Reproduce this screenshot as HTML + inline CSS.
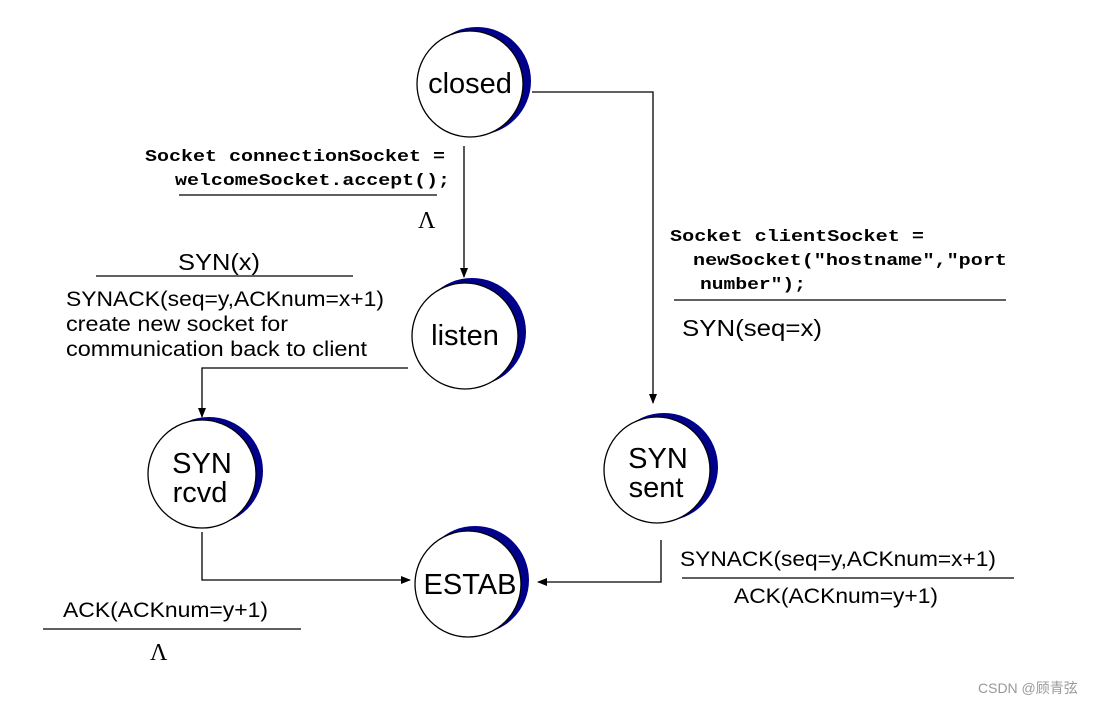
<!DOCTYPE html>
<html><head><meta charset="utf-8"><style>
html,body{margin:0;padding:0;background:#fff;}
svg{display:block}
.s{font-family:"Liberation Sans",sans-serif;fill:#000}
.m{font-family:"Liberation Mono",monospace;font-weight:bold;fill:#000}
</style></head><body>
<svg width="1093" height="705" viewBox="0 0 1093 705" xmlns="http://www.w3.org/2000/svg">
<defs>
<marker id="a" markerWidth="10" markerHeight="10" refX="9" refY="5" orient="auto" markerUnits="userSpaceOnUse">
<path d="M0,1 L10,5 L0,9 z" fill="#000"/></marker>
</defs>
<rect width="1093" height="705" fill="#fff"/>
<g>
<circle cx="477" cy="81" r="54" fill="#00008b"/>
<circle cx="470" cy="84" r="53" fill="#fff" stroke="#000" stroke-width="1.3"/>
<circle cx="472" cy="332" r="54" fill="#00008b"/>
<circle cx="465" cy="336" r="53" fill="#fff" stroke="#000" stroke-width="1.3"/>
<circle cx="209" cy="471" r="54" fill="#00008b"/>
<circle cx="202" cy="474" r="54" fill="#fff" stroke="#000" stroke-width="1.3"/>
<circle cx="664" cy="467" r="54" fill="#00008b"/>
<circle cx="657" cy="470" r="53" fill="#fff" stroke="#000" stroke-width="1.3"/>
<circle cx="475" cy="580" r="54" fill="#00008b"/>
<circle cx="468" cy="584" r="53" fill="#fff" stroke="#000" stroke-width="1.3"/>
</g>
<text class="s" x="470" y="93" font-size="29" text-anchor="middle">closed</text>
<text class="s" x="465" y="345" font-size="29" text-anchor="middle">listen</text>
<text class="s" x="202" y="473" font-size="29" text-anchor="middle">SYN</text>
<text class="s" x="200" y="502" font-size="29" text-anchor="middle">rcvd</text>
<text class="s" x="658" y="468" font-size="29" text-anchor="middle">SYN</text>
<text class="s" x="656" y="497" font-size="29" text-anchor="middle">sent</text>
<text class="s" x="470" y="594" font-size="29" text-anchor="middle">ESTAB</text>
<g fill="none" stroke="#000" stroke-width="1.3">
<polyline points="532,92 653,92 653,403" marker-end="url(#a)"/>
<line x1="464" y1="146" x2="464" y2="277" marker-end="url(#a)"/>
<polyline points="408,368 202,368 202,417" marker-end="url(#a)"/>
<polyline points="202,532 202,580 410,580" marker-end="url(#a)"/>
<polyline points="661,540 661,582 538,582" marker-end="url(#a)"/>
<line x1="179" y1="195" x2="437" y2="195"/>
<line x1="96" y1="276" x2="353" y2="276"/>
<line x1="674" y1="300" x2="1006" y2="300"/>
<line x1="682" y1="578" x2="1014" y2="578"/>
<line x1="43" y1="629" x2="301" y2="629"/>
</g>
<text class="m" x="145" y="161" font-size="17" textLength="300" lengthAdjust="spacingAndGlyphs">Socket connectionSocket =</text>
<text class="m" x="175" y="185" font-size="17" textLength="275" lengthAdjust="spacingAndGlyphs">welcomeSocket.accept();</text>
<text x="418" y="228" font-family="Liberation Serif,serif" font-size="24">Λ</text>
<text class="s" x="178" y="270" font-size="23" textLength="82" lengthAdjust="spacingAndGlyphs">SYN(x)</text>
<text class="s" x="66" y="306" font-size="21" textLength="318" lengthAdjust="spacingAndGlyphs">SYNACK(seq=y,ACKnum=x+1)</text>
<text class="s" x="66" y="331" font-size="21" textLength="222" lengthAdjust="spacingAndGlyphs">create new socket for</text>
<text class="s" x="66" y="356" font-size="21" textLength="301" lengthAdjust="spacingAndGlyphs">communication back to client</text>
<text class="m" x="670" y="241" font-size="17" textLength="254" lengthAdjust="spacingAndGlyphs">Socket clientSocket =</text>
<text class="m" x="693" y="265" font-size="17" textLength="314" lengthAdjust="spacingAndGlyphs">newSocket("hostname","port</text>
<text class="m" x="700" y="289" font-size="17" textLength="106" lengthAdjust="spacingAndGlyphs">number");</text>
<text class="s" x="682" y="336" font-size="23" textLength="140" lengthAdjust="spacingAndGlyphs">SYN(seq=x)</text>
<text class="s" x="680" y="566" font-size="21" textLength="316" lengthAdjust="spacingAndGlyphs">SYNACK(seq=y,ACKnum=x+1)</text>
<text class="s" x="734" y="603" font-size="21" textLength="204" lengthAdjust="spacingAndGlyphs">ACK(ACKnum=y+1)</text>
<text class="s" x="63" y="617" font-size="21" textLength="205" lengthAdjust="spacingAndGlyphs">ACK(ACKnum=y+1)</text>
<text x="150" y="660" font-family="Liberation Serif,serif" font-size="24">Λ</text>
<text x="978" y="693" font-family="Liberation Sans,Noto Sans CJK SC,sans-serif" font-size="14" fill="#999">CSDN @顾青弦</text>
</svg>
</body></html>
